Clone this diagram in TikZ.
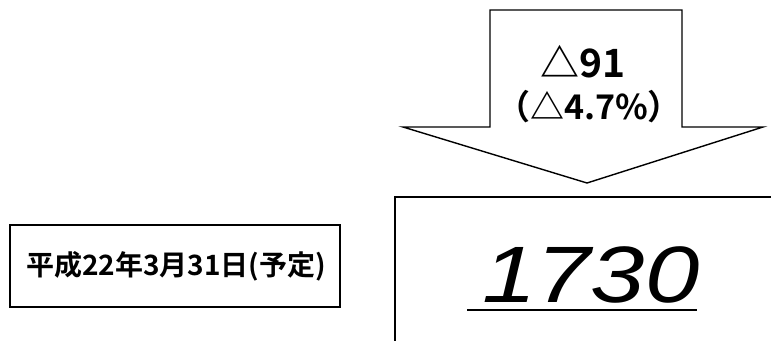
\documentclass[tikz,border=0pt]{standalone}
\usepackage{fontspec}
\setmainfont{Liberation Sans}
\newfontfamily\jpfont{Noto Sans CJK JP}
\newfontfamily\jpbold{Noto Sans CJK JP Bold}
\newfontfamily\numfont{Liberation Sans}
\begin{document}
\begin{tikzpicture}[x=1pt,y=-1pt,
  frame/.style={draw=black,line width=1.5pt},
  arrowshape/.style={draw=black,line width=1.4pt,fill=white,line join=miter},
  lbl/.style={inner sep=0pt,outer sep=0pt}]
\useasboundingbox[fill=white] (0,0) rectangle (771,340);
% down arrow
\draw[arrowshape] (490,10) -- (682,10) -- (682,127) -- (763,127) -- (587,183) -- (403,127) -- (490,127) -- cycle;
\node[lbl,anchor=base] (diff) at (583,77) {\jpbold\fontsize{39}{39}\selectfont △91};
\node[lbl,anchor=base] (pct) at (589,119) {\jpbold\fontsize{34}{34}\selectfont （△4.7\%）};
% left box
\node[frame,minimum width=330pt,minimum height=82pt,inner sep=0pt] (date) at (175,266) {};
\node[lbl] (datetxt) at (176,266) {\jpbold\fontsize{28}{28}\selectfont 平成22年3月31日(予定)};
% right box (partly outside the picture)
\coordinate (rbl) at (395,341);
\coordinate (rtl) at (395,197);
\coordinate (rtr) at (772,197);
\draw[frame] (rbl) -- (rtl) -- (rtr);
\node[lbl,anchor=base] (value) at (591,302) {\scalebox{1.22}[1]{\numfont\itshape\fontsize{80}{80}\selectfont 1730}};
\coordinate (ul) at (467,310);
\coordinate (ur) at (697,310);
\draw[line width=2.4pt] (ul) -- (ur);
\end{tikzpicture}
\end{document}
